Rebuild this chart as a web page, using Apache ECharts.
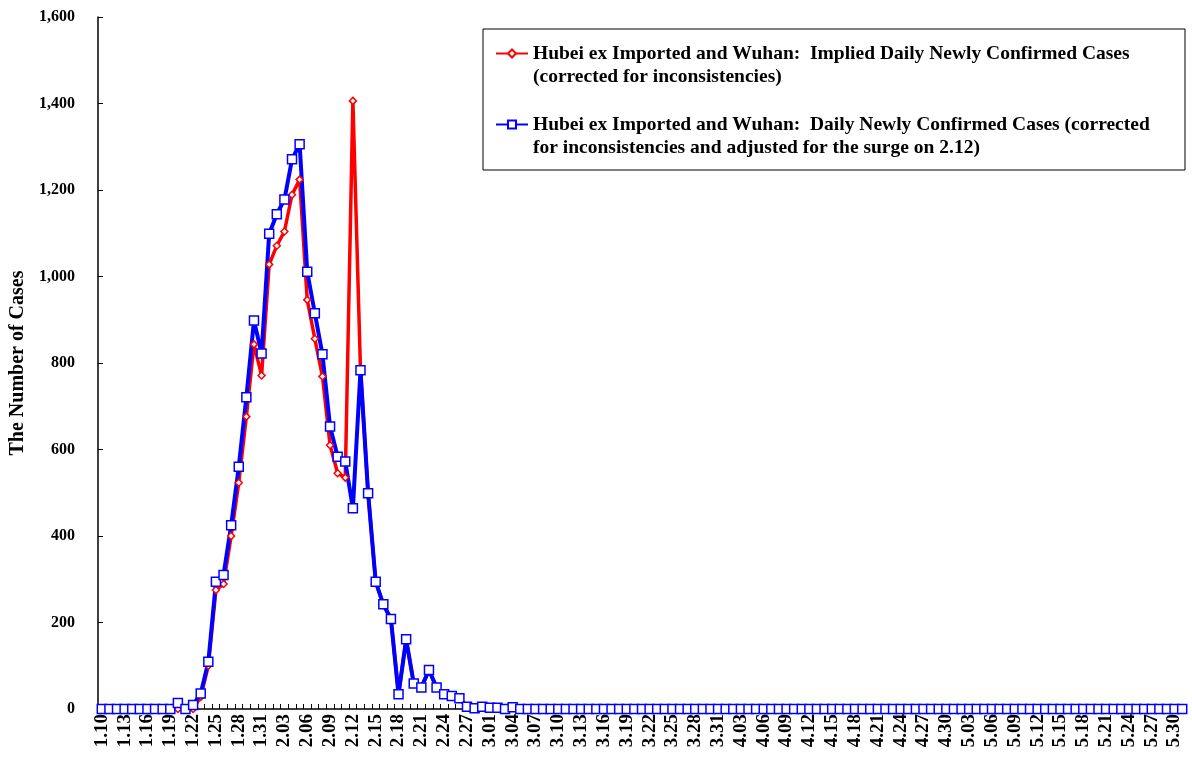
<!DOCTYPE html>
<html>
<head>
<meta charset="utf-8">
<script src="https://cdn.jsdelivr.net/npm/echarts@6/dist/echarts.min.js"></script>
<style>
  html, body { margin: 0; padding: 0; background: #fff; }
  #chart { width: 1192px; height: 760px; }
</style>
</head>
<body>
<div id="chart"></div>
<script>
// day labels 1.10 ... 5.31 (2020, leap year)
const months = [[1, 10, 31], [2, 1, 29], [3, 1, 31], [4, 1, 30], [5, 1, 31]];
const categories = [];
months.forEach(function (m) {
  for (let d = m[1]; d <= m[2]; d++) {
    categories.push(m[0] + '.' + (d < 10 ? '0' + d : d));
  }
});

const yTicks = [0, 200, 400, 600, 800, 1000, 1200, 1400, 1600];

const impliedNames = ['Hubei ex Imported and Wuhan:  Implied Daily Newly Confirmed Cases',
  '(corrected for inconsistencies)'];
const adjustedNames = ['Hubei ex Imported and Wuhan:  Daily Newly Confirmed Cases (corrected',
  'for inconsistencies and adjusted for the surge on 2.12)'];

const impliedDaily = [
  0, 0, 0, 0, 0, 0, 0, 0, 0, 0,
  0, 0, 0, 28, 100, 275, 289, 400, 523, 676,
  843, 771, 1028, 1071, 1104, 1189, 1224, 946, 856, 769,
  610, 545, 535, 1406, 783, 499, 294, 242, 208, 34,
  161, 59, 50, 90, 50, 34, 30, 25, 5, 2,
  5, 3, 3, 0, 4, 0, 0, 0, 0, 0,
  0, 0, 0, 0, 0, 0, 0, 0, 0, 0,
  0, 0, 0, 0, 0, 0, 0, 0, 0, 0,
  0, 0, 0, 0, 0, 0, 0, 0, 0, 0,
  0, 0, 0, 0, 0, 0, 0, 0, 0, 0,
  0, 0, 0, 0, 0, 0, 0, 0, 0, 0,
  0, 0, 0, 0, 0, 0, 0, 0, 0, 0,
  0, 0, 0, 0, 0, 0, 0, 0, 0, 0,
  0, 0, 0, 0, 0, 0, 0, 0, 0, 0,
  0, 0, 0
];

const adjustedDaily = [
  0, 0, 0, 0, 0, 0, 0, 0, 0, 0,
  14, 0, 9, 36, 109, 294, 310, 425, 560, 721,
  898, 822, 1099, 1144, 1178, 1271, 1306, 1011, 915, 820,
  653, 583, 572, 464, 783, 499, 294, 242, 208, 34,
  161, 59, 50, 90, 50, 34, 30, 25, 5, 2,
  5, 3, 3, 0, 4, 0, 0, 0, 0, 0,
  0, 0, 0, 0, 0, 0, 0, 0, 0, 0,
  0, 0, 0, 0, 0, 0, 0, 0, 0, 0,
  0, 0, 0, 0, 0, 0, 0, 0, 0, 0,
  0, 0, 0, 0, 0, 0, 0, 0, 0, 0,
  0, 0, 0, 0, 0, 0, 0, 0, 0, 0,
  0, 0, 0, 0, 0, 0, 0, 0, 0, 0,
  0, 0, 0, 0, 0, 0, 0, 0, 0, 0,
  0, 0, 0, 0, 0, 0, 0, 0, 0, 0,
  0, 0, 0
];

const font = 'Liberation Serif';
const chart = echarts.init(document.getElementById('chart'));

const legendText = {};
legendText[impliedNames[0]] = impliedNames;
legendText[adjustedNames[0]] = adjustedNames;

const option = {
  animation: false,
  backgroundColor: '#fff',
  grid: { left: 97, right: 6, top: 17, bottom: 51, containLabel: false },
  graphic: [{
    type: 'rect',
    shape: { x: 483, y: 29, width: 702, height: 141 },
    style: { fill: '#fff', stroke: '#000', lineWidth: 1 },
    z: 0
  }],
  legend: {
    orient: 'vertical',
    left: 495,
    top: 19,
    padding: 0,
    itemGap: 2,
    itemWidth: 32,
    itemHeight: 10,
    z: 10,
    data: [impliedNames[0], adjustedNames[0]],
    formatter: function (name) {
      // blank first line keeps the icon level with the first text line
      return ' \n' + legendText[name].join('\n');
    },
    textStyle: { fontFamily: font, fontWeight: 'bold', fontSize: 19.5, lineHeight: 23, color: '#000' }
  },
  xAxis: {
    type: 'category',
    data: categories,
    boundaryGap: true,
    axisLine: { lineStyle: { color: '#000', width: 1.5 } },
    axisTick: { show: true, inside: true, length: 5, interval: 0, lineStyle: { color: '#000' } },
    axisLabel: {
      interval: 2,
      rotate: 90,
      margin: 5,
      fontFamily: font,
      fontWeight: 'bold',
      fontSize: 19,
      color: '#000'
    },
    splitLine: { show: false }
  },
  yAxis: {
    type: 'value',
    min: yTicks[0],
    max: yTicks[yTicks.length - 1],
    interval: yTicks[1] - yTicks[0],
    name: 'The Number of Cases',
    nameLocation: 'middle',
    nameGap: 70,
    nameTextStyle: { fontFamily: font, fontWeight: 'bold', fontSize: 20, color: '#000' },
    axisLine: { show: true, lineStyle: { color: '#000', width: 1.5 } },
    axisTick: { show: true, inside: true, length: 5, lineStyle: { color: '#000' } },
    axisLabel: {
      margin: 23,
      fontFamily: font,
      fontWeight: 'bold',
      fontSize: 16,
      color: '#000',
      formatter: function (v) { return v.toLocaleString('en-US'); }
    },
    splitLine: { show: false }
  },
  series: [
    {
      name: impliedNames[0],
      type: 'line',
      data: impliedDaily,
      symbol: 'diamond',
      symbolSize: 7,
      showAllSymbol: true,
      lineStyle: { color: '#ff0000', width: 3.5 },
      itemStyle: { color: '#fff', borderColor: '#ff0000', borderWidth: 1.5 }
    },
    {
      name: adjustedNames[0],
      type: 'line',
      data: adjustedDaily,
      symbol: 'rect',
      symbolSize: 9,
      showAllSymbol: true,
      lineStyle: { color: '#0000ff', width: 4 },
      itemStyle: { color: '#fff', borderColor: '#0000ff', borderWidth: 1.5 }
    }
  ]
};

chart.setOption(option);
</script>
</body>
</html>
